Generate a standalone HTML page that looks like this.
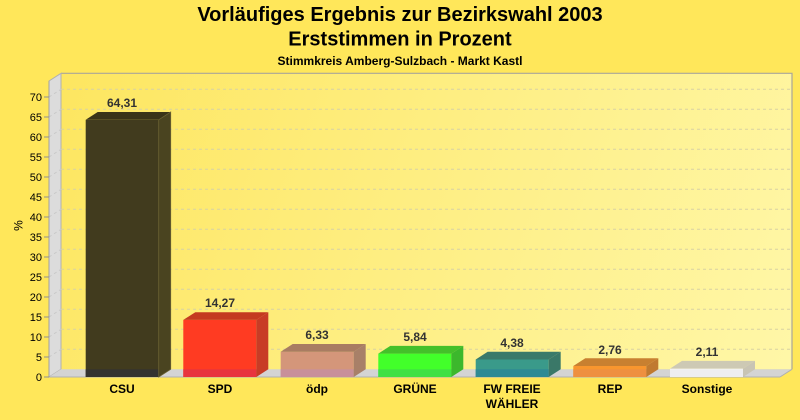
<!DOCTYPE html>
<html><head><meta charset="utf-8"><style>
html,body{margin:0;padding:0;background:#ffe75a;}
svg{display:block;}
text{font-family:"Liberation Sans",Arial,sans-serif;}
</style></head><body>
<svg width="800" height="420" viewBox="0 0 800 420" xmlns="http://www.w3.org/2000/svg">
<defs>
<linearGradient id="bg" x1="61" y1="73" x2="792" y2="369" gradientUnits="userSpaceOnUse">
<stop offset="0" stop-color="#fde660"/>
<stop offset="1" stop-color="#fff7a8"/>
</linearGradient>
</defs>
<rect x="0" y="0" width="800" height="420" fill="#ffe75a"/>
<text x="400" y="21" text-anchor="middle" font-size="20" font-weight="bold" fill="#000">Vorläufiges Ergebnis zur Bezirkswahl 2003</text>
<text x="400" y="45.5" text-anchor="middle" font-size="20" font-weight="bold" fill="#000">Erststimmen in Prozent</text>
<text x="400" y="65" text-anchor="middle" font-size="12" font-weight="bold" fill="#000">Stimmkreis Amberg-Sulzbach - Markt Kastl</text>

<!-- back plane -->
<rect x="61" y="73.3" width="731" height="296" fill="url(#bg)"/>
<polyline points="61,73.3 792,73.3 792,369.3" fill="none" stroke="#aaa698" stroke-width="1.2"/>
<!-- left wall -->
<polygon points="49,81 61,73.3 61,369.3 49,377" fill="#dcdcdc" stroke="#b0b0b0" stroke-width="1"/>
<!-- floor -->
<polygon points="49,377 780,377 792,369.3 61,369.3" fill="#d4d4d4"/>
<line x1="49" y1="377" x2="780" y2="377" stroke="#b0b0b0" stroke-width="1"/>
<line x1="780" y1="377" x2="792" y2="369.3" stroke="#b0b0b0" stroke-width="1"/>

<!-- grid -->
<g stroke="#d8d2a2" stroke-width="1" stroke-dasharray="3,3" fill="none">
<path d="M61 349.3H792M61 329.3H792M61 309.3H792M61 289.3H792M61 269.3H792M61 249.3H792M61 229.3H792M61 209.3H792M61 189.3H792M61 169.3H792M61 149.3H792M61 129.3H792M61 109.3H792M61 89.3H792"/>
<path d="M49 357L61 349.3M49 337L61 329.3M49 317L61 309.3M49 297L61 289.3M49 277L61 269.3M49 257L61 249.3M49 237L61 229.3M49 217L61 209.3M49 197L61 189.3M49 177L61 169.3M49 157L61 149.3M49 137L61 129.3M49 117L61 109.3M49 97L61 89.3" stroke="#c8c8c8"/>
</g>

<!-- axis & ticks -->
<line x1="49" y1="81" x2="49" y2="377" stroke="#a0a0a0" stroke-width="1"/>
<g stroke="#909090" stroke-width="1">
<path d="M44 377H49M44 357H49M44 337H49M44 317H49M44 297H49M44 277H49M44 257H49M44 237H49M44 217H49M44 197H49M44 177H49M44 157H49M44 137H49M44 117H49M44 97H49"/>
</g>
<g font-size="11" fill="#000" text-anchor="end">
<text x="42" y="381">0</text>
<text x="42" y="361">5</text>
<text x="42" y="341">10</text>
<text x="42" y="321">15</text>
<text x="42" y="301">20</text>
<text x="42" y="281">25</text>
<text x="42" y="261">30</text>
<text x="42" y="241">35</text>
<text x="42" y="221">40</text>
<text x="42" y="201">45</text>
<text x="42" y="181">50</text>
<text x="42" y="161">55</text>
<text x="42" y="141">60</text>
<text x="42" y="121">65</text>
<text x="42" y="101">70</text>
</g>
<text x="0" y="0" font-size="12" fill="#000" text-anchor="middle" transform="translate(22.5,225.5) rotate(-90)">%</text>

<!-- bars -->
<!-- CSU -->
<g>
<rect x="85.7" y="119.8" width="73" height="257.2" fill="#413b1e"/>
<rect x="85.7" y="369.3" width="73" height="7.7" fill="#343330"/>
<polygon points="85.7,119.8 97.7,112 170.7,112 158.7,119.8" fill="#3a3418"/>
<polygon points="158.7,119.8 170.7,112 170.7,369.3 158.7,377" fill="#4a4420" stroke="#6a6232" stroke-width="0.8"/>
</g>
<!-- SPD -->
<g>
<rect x="183.3" y="319.9" width="73" height="57.1" fill="#ff3b22"/>
<rect x="183.3" y="369.3" width="73" height="7.7" fill="#e8343e"/>
<polygon points="183.3,319.9 195.3,312.2 268.3,312.2 256.3,319.9" fill="#c43a20"/>
<polygon points="256.3,319.9 268.3,312.2 268.3,369.3 256.3,377" fill="#c83c26"/>
</g>
<!-- ödp -->
<g>
<rect x="280.7" y="351.7" width="73" height="25.3" fill="#d4967a"/>
<rect x="280.7" y="369.3" width="73" height="7.7" fill="#c8909a"/>
<polygon points="280.7,351.7 292.7,344 365.7,344 353.7,351.7" fill="#a87c62"/>
<polygon points="353.7,351.7 365.7,344 365.7,369.3 353.7,377" fill="#a88068"/>
</g>
<!-- GRÜNE -->
<g>
<rect x="378.3" y="353.6" width="73" height="23.4" fill="#42ff2a"/>
<rect x="378.3" y="369.3" width="73" height="7.7" fill="#40e044"/>
<polygon points="378.3,353.6 390.3,345.9 463.3,345.9 451.3,353.6" fill="#44c02a"/>
<polygon points="451.3,353.6 463.3,345.9 463.3,369.3 451.3,377" fill="#3cb82c"/>
</g>
<!-- FW -->
<g>
<rect x="475.7" y="359.5" width="73" height="17.5" fill="#3a9a8a"/>
<rect x="475.7" y="369.3" width="73" height="7.7" fill="#2e8a94"/>
<polygon points="475.7,359.5 487.7,351.8 560.7,351.8 548.7,359.5" fill="#3a7a6a"/>
<polygon points="548.7,359.5 560.7,351.8 560.7,369.3 548.7,377" fill="#3a7868"/>
</g>
<!-- REP -->
<g>
<rect x="573.3" y="366" width="73" height="11" fill="#f8962e"/>
<rect x="573.3" y="369.3" width="73" height="7.7" fill="#ee9040"/>
<polygon points="573.3,366 585.3,358.3 658.3,358.3 646.3,366" fill="#c88030"/>
<polygon points="646.3,366 658.3,358.3 658.3,369.3 646.3,377" fill="#c07a30"/>
</g>
<!-- Sonstige -->
<g>
<rect x="670" y="368.6" width="73" height="8.4" fill="#f8f8f4"/>
<rect x="670" y="369.3" width="73" height="7.7" fill="#eeeef0"/>
<polygon points="670,368.6 682,360.9 755,360.9 743,368.6" fill="#cdc9b4"/>
<polygon points="743,368.6 755,360.9 755,369.3 743,377" fill="#c8c4b4"/>
</g>

<!-- value labels -->
<g font-size="12" font-weight="bold" fill="#333333" text-anchor="middle">
<text x="122" y="107">64,31</text>
<text x="220" y="307">14,27</text>
<text x="317" y="339">6,33</text>
<text x="415" y="341">5,84</text>
<text x="512" y="347">4,38</text>
<text x="610" y="354">2,76</text>
<text x="707" y="356">2,11</text>
</g>

<!-- category labels -->
<g font-size="12" font-weight="bold" fill="#000" text-anchor="middle">
<text x="122" y="393">CSU</text>
<text x="220" y="393">SPD</text>
<text x="317" y="393">ödp</text>
<text x="415" y="393">GRÜNE</text>
<text x="512" y="393">FW FREIE</text>
<text x="512" y="408">WÄHLER</text>
<text x="610" y="393">REP</text>
<text x="707" y="393">Sonstige</text>
</g>
</svg>
</body></html>
